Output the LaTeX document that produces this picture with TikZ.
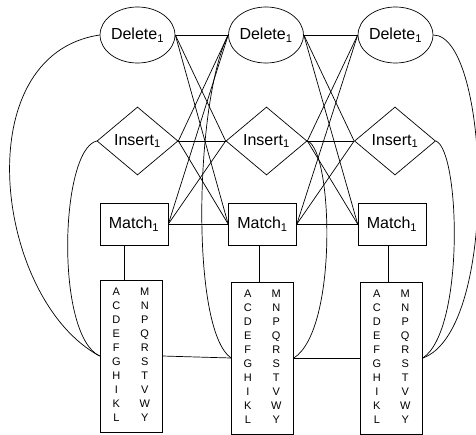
\documentclass[tikz,border=0pt]{standalone}
\usepackage{fontspec}
\setmainfont{Liberation Sans}
\usetikzlibrary{shapes.geometric}
\begin{document}
\begin{tikzpicture}[x=1pt,y=-1pt,
  every path/.style={line width=0.7pt},
  lbl/.style={font=\fontsize{16}{18}\selectfont, inner sep=0pt},
  delnode/.style={lbl, draw, ellipse, minimum width=69pt, minimum height=56pt},
  insnode/.style={lbl, draw, diamond, minimum width=81pt, minimum height=68pt},
  matnode/.style={lbl, draw, rectangle, minimum width=68pt, minimum height=42pt},
  resnode/.style={draw, rectangle, minimum width=62pt, minimum height=152pt, inner sep=0pt, font=\fontsize{11}{14}\selectfont},
  link/.style={draw, line width=0.7pt}
]
\useasboundingbox (0,0) rectangle (476,434);
\newcommand{\restable}{\begin{tabular}{@{}c@{\hspace{19pt}}c@{}}A&M\\C&N\\D&P\\E&Q\\F&R\\G&S\\H&T\\I&V\\K&W\\L&Y\end{tabular}}

\node[delnode] (d1) at (137.5,35) {Delete\textsubscript{1}};
\node[delnode] (d2) at (266,35) {Delete\textsubscript{1}};
\node[delnode] (d3) at (395.5,35) {Delete\textsubscript{1}};
\node[insnode] (i1) at (137.5,141) {Insert\textsubscript{1}};
\node[insnode] (i2) at (266.5,141) {Insert\textsubscript{1}};
\node[insnode] (i3) at (395,141) {Insert\textsubscript{1}};
\node[matnode] (m1) at (134,224) {Match\textsubscript{1}};
\node[matnode] (m2) at (262.5,224) {Match\textsubscript{1}};
\node[matnode] (m3) at (392,224) {Match\textsubscript{1}};
\node[resnode] (r1) at (131,356) {\restable};
\node[resnode] (r2) at (262.5,358) {\restable};
\node[resnode] (r3) at (391.5,358) {\restable};

\foreach \a in {d1,i1,m1} \foreach \b in {d2,i2,m2} \draw[link] (\a.east) -- (\b.west);
\foreach \a in {d2,i2,m2} \foreach \b in {d3,i3,m3} \draw[link] (\a.east) -- (\b.west);

\draw[link] ([xshift=-10pt]m1.south) -- ([xshift=-7pt]r1.north);
\draw[link] ([xshift=-3.5pt]m2.south) -- ([xshift=-3.5pt]r2.north);
\draw[link] ([xshift=-4pt]m3.south) -- ([xshift=-3.5pt]r3.north);

\draw[link] (r1.east) -- (r2.west);
\draw[link] (r2.east) -- (r3.west);

\draw[link] (d1.west) .. controls (-35,55) and (-5,300) .. (r1.west);
\draw[link] (i1.west) .. controls (60,150) and (55,335) .. (r1.west);
\draw[link] (d2.west) .. controls (195,100) and (190,330) .. (r2.west);
\draw[link] (i2.east) .. controls (333,150) and (338,330) .. (r2.east);
\draw[link] (d3.east) .. controls (490,35) and (500,330) .. (r3.east);
\draw[link] (i3.east) .. controls (460,150) and (465,330) .. (r3.east);
\end{tikzpicture}
\end{document}
